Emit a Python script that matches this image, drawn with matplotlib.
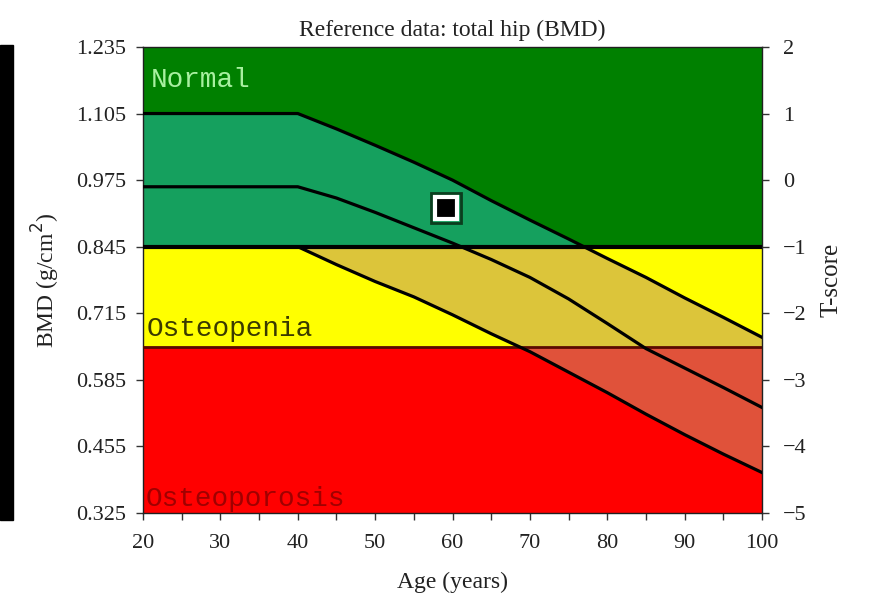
import numpy as np
from matplotlib import pyplot as plt
from matplotlib.patches import Rectangle

# reference curves (BMD g/cm2)
age = [20, 40, 45, 50, 55, 60, 65, 70, 75, 80, 85, 90, 95, 100]
upper = [1.105, 1.105, 1.075, 1.043, 1.010, 0.975, 0.935, 0.897, 0.860, 0.822, 0.785, 0.745, 0.707, 0.668]
middle = [0.962, 0.962, 0.940, 0.912, 0.882, 0.852, 0.820, 0.785, 0.743, 0.695, 0.646, 0.608, 0.570, 0.531]
lower = [0.845, 0.845, 0.810, 0.777, 0.747, 0.712, 0.675, 0.640, 0.600, 0.560, 0.518, 0.478, 0.440, 0.404]

# patient point
pt_age = [59.2]
pt_bmd = [0.921]

bmd_ticks = [0.325, 0.455, 0.585, 0.715, 0.845, 0.975, 1.105, 1.235]
t_ticks = [-5, -4, -3, -2, -1, 0, 1, 2]
# zones: (low, high, colour, band colour)
zones = [(0.845, 1.235, '#008000', '#15a05e'),
         (0.650, 0.845, '#ffff00', '#dcc53a'),
         (0.325, 0.650, '#ff0000', '#e0523a')]

plt.rcParams['font.family'] = ['Liberation Serif', 'DejaVu Serif']

fig = plt.figure(figsize=(8.69, 5.99), dpi=100)
ax = fig.add_axes([0.1646, 0.1436, 0.7123, 0.7780])

for lo, hi, c, bc in zones:
    bg = ax.axhspan(lo, hi, color=c, zorder=0)
    band = ax.fill_between(age, lower, upper, color=bc, lw=0, zorder=1)
    band.set_clip_path(bg)

ax.axhline(0.845, color='black', lw=3, zorder=3)
ax.axhline(0.650, color='#5a0a00', lw=2, zorder=3)

for y in (upper, middle, lower):
    ax.plot(age, y, color='black', lw=2.3, zorder=4)

ax.plot(pt_age, pt_bmd, 's', ms=21, mfc='none', mec='#0b3d1e', mew=2, zorder=5)
ax.plot(pt_age, pt_bmd, 's', ms=16, mfc='black', mec='white', mew=3, zorder=6)

mono = ['Liberation Mono', 'DejaVu Sans Mono']
ax.text(21.0, 1.157, 'Normal', family=mono, fontsize=20, color='#a8f0a0', zorder=7)
ax.text(20.5, 0.670, 'Osteopenia', family=mono, fontsize=20, color='#3a3a00', zorder=7)
ax.text(20.3, 0.339, 'Osteoporosis', family=mono, fontsize=20, color='#a00000', zorder=7)

ax.set_xlim(20, 100)
ax.set_ylim(0.325, 1.235)
ax.set_xticks(range(20, 101, 10))
ax.set_xticks(range(25, 100, 10), minor=True)
ax.set_yticks(bmd_ticks)
ax.set_yticklabels(['%.3f' % v for v in bmd_ticks])
ax.tick_params(labelsize=16, length=5, width=1, colors='#333333', labelcolor='#222222')
ax.tick_params(axis='y', pad=7)
ax.tick_params(axis='x', pad=10)
ax.tick_params(which='minor', length=5, width=1, colors='#333333')
for s in ax.spines.values():
    s.set_color('#202020')
    s.set_linewidth(1)

ax.set_xlabel('Age (years)', fontsize=17, color='#222222', labelpad=14)
ax.set_ylabel('BMD (g/cm$^2$)', fontsize=17, color='#222222', labelpad=10)
ax.set_title('Reference data: total hip (BMD)', fontsize=17, color='#222222', pad=8)

ax2 = ax.twinx()
ax2.set_ylim(-5, 2)
ax2.set_yticks(t_ticks)
ax2.set_yticklabels([str(t).replace('-', '\u2212') for t in t_ticks])
ax2.tick_params(labelsize=16, length=5, width=1, pad=10, colors='#333333', labelcolor='#222222')
ax2.set_ylabel('T-score', fontsize=18, color='#222222', labelpad=10)
for s in ax2.spines.values():
    s.set_visible(False)

# black strip at the left edge of the picture
fig.patches.append(Rectangle((0, 0.132), 0.015, 0.793, transform=fig.transFigure,
                             color='black', zorder=0))

fig.savefig('out.png', dpi=100)
